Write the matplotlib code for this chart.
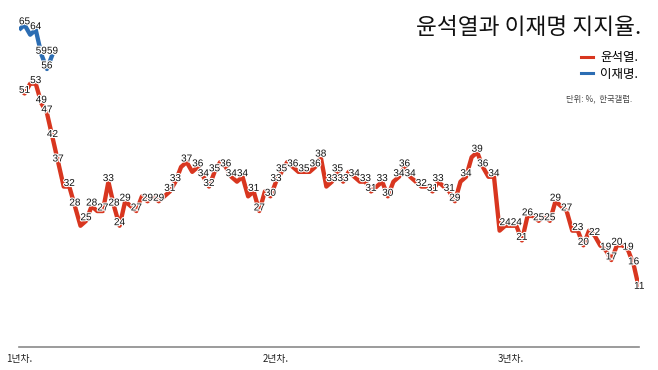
import matplotlib
matplotlib.use("Agg")
import matplotlib.pyplot as plt
import matplotlib.patheffects as pe
from matplotlib.lines import Line2D

# ---- data ----
yoon = [52, 51, 53, 53, 49, 47, 42, 37, 32, 32, 28, 24, 25, 28, 27, 27, 33, 28, 24, 29,
        28, 27, 30, 29, 30, 29, 30, 31, 33, 36, 37, 35, 36, 34, 32, 35, 37, 36, 34, 33,
        34, 30, 31, 27, 31, 30, 33, 35, 37, 36, 35, 35, 35, 36, 38, 32, 33, 35, 33, 35,
        34, 33, 33, 31, 32, 33, 30, 33, 34, 36, 34, 33, 32, 32, 31, 33, 32, 31, 29, 33,
        34, 38, 39, 36, 34, 34, 23, 24, 24, 24, 21, 26, 26, 25, 26, 25, 29, 28, 27, 23,
        23, 20, 23, 22, 20, 19, 17, 20, 20, 19, 16, 11]
lee = [64, 65, 63, 64, 59, 56, 59]
year_ticks = [0, 46, 88]
year_labels = ["1년차.", "2년차.", "3년차."]
series_names = ["윤석열.", "이재명."]
title = "윤석열과 이재명 지지율."
source = "단위: %,  한국갤럽."

RED = "#d8361f"
BLUE = "#2c6db3"
KR = ["Noto Sans CJK KR", "DejaVu Sans"]

fig = plt.figure(figsize=(6.58, 3.70), dpi=100)
W, H = 658, 370
left, right = 19 / W, 639.3 / W
bottom, top = (H - 347) / H, (H - 0.4) / H
ax = fig.add_axes([left, bottom, right - left, top - bottom])
ax.set_xlim(0, len(yoon) - 1)
ax.set_ylim(-0.75, 70)

ax.plot(range(len(yoon)), yoon, color=RED, lw=3.1, solid_joinstyle="round", solid_capstyle="butt", zorder=3)
ax.plot(range(len(lee)), lee, color=BLUE, lw=3.1, solid_joinstyle="round", solid_capstyle="butt", zorder=3)


def label_points(vals):
    drawn = []
    for i in range(len(vals) - 1, -1, -1):
        v = vals[i]
        if any(abs(i - j) < 2 and abs(v - w) < 2 for j, w in drawn):
            continue
        drawn.append((i, v))
        ax.annotate(str(v), (i, v), xytext=(0, 2.6), textcoords="offset points",
                    ha="center", va="center", fontsize=7.2, family="Liberation Sans",
                    color="#111111", zorder=5,
                    path_effects=[pe.withStroke(linewidth=1.6, foreground="white")])


label_points(yoon)
label_points(lee)

for s in ["top", "right", "left"]:
    ax.spines[s].set_visible(False)
ax.spines["bottom"].set_color("#8a8a8a")
ax.spines["bottom"].set_linewidth(1.2)
ax.set_yticks([])
ax.set_xticks(year_ticks)
ax.set_xticklabels(year_labels, fontsize=7, family=KR, color="#222222")
ax.tick_params(axis="x", length=0, pad=5)

fig.text(641 / W, 1 - 28 / H, title, ha="right", va="center", fontsize=16.3, family=KR, color="#111111")

handles = [Line2D([], [], color=RED, lw=2.2), Line2D([], [], color=BLUE, lw=2.2)]
leg = fig.legend(handles, series_names, loc="upper right", bbox_to_anchor=(638 / W, 1 - 51 / H),
                 frameon=False, prop={"family": KR, "size": 9}, handlelength=0.9,
                 handletextpad=0.6, labelspacing=0.3, borderaxespad=0, borderpad=0)
fig.text(632 / W, 1 - 99 / H, source, ha="right", va="center", fontsize=6, family=KR, color="#444444")

fig.savefig("out.png", dpi=100)
